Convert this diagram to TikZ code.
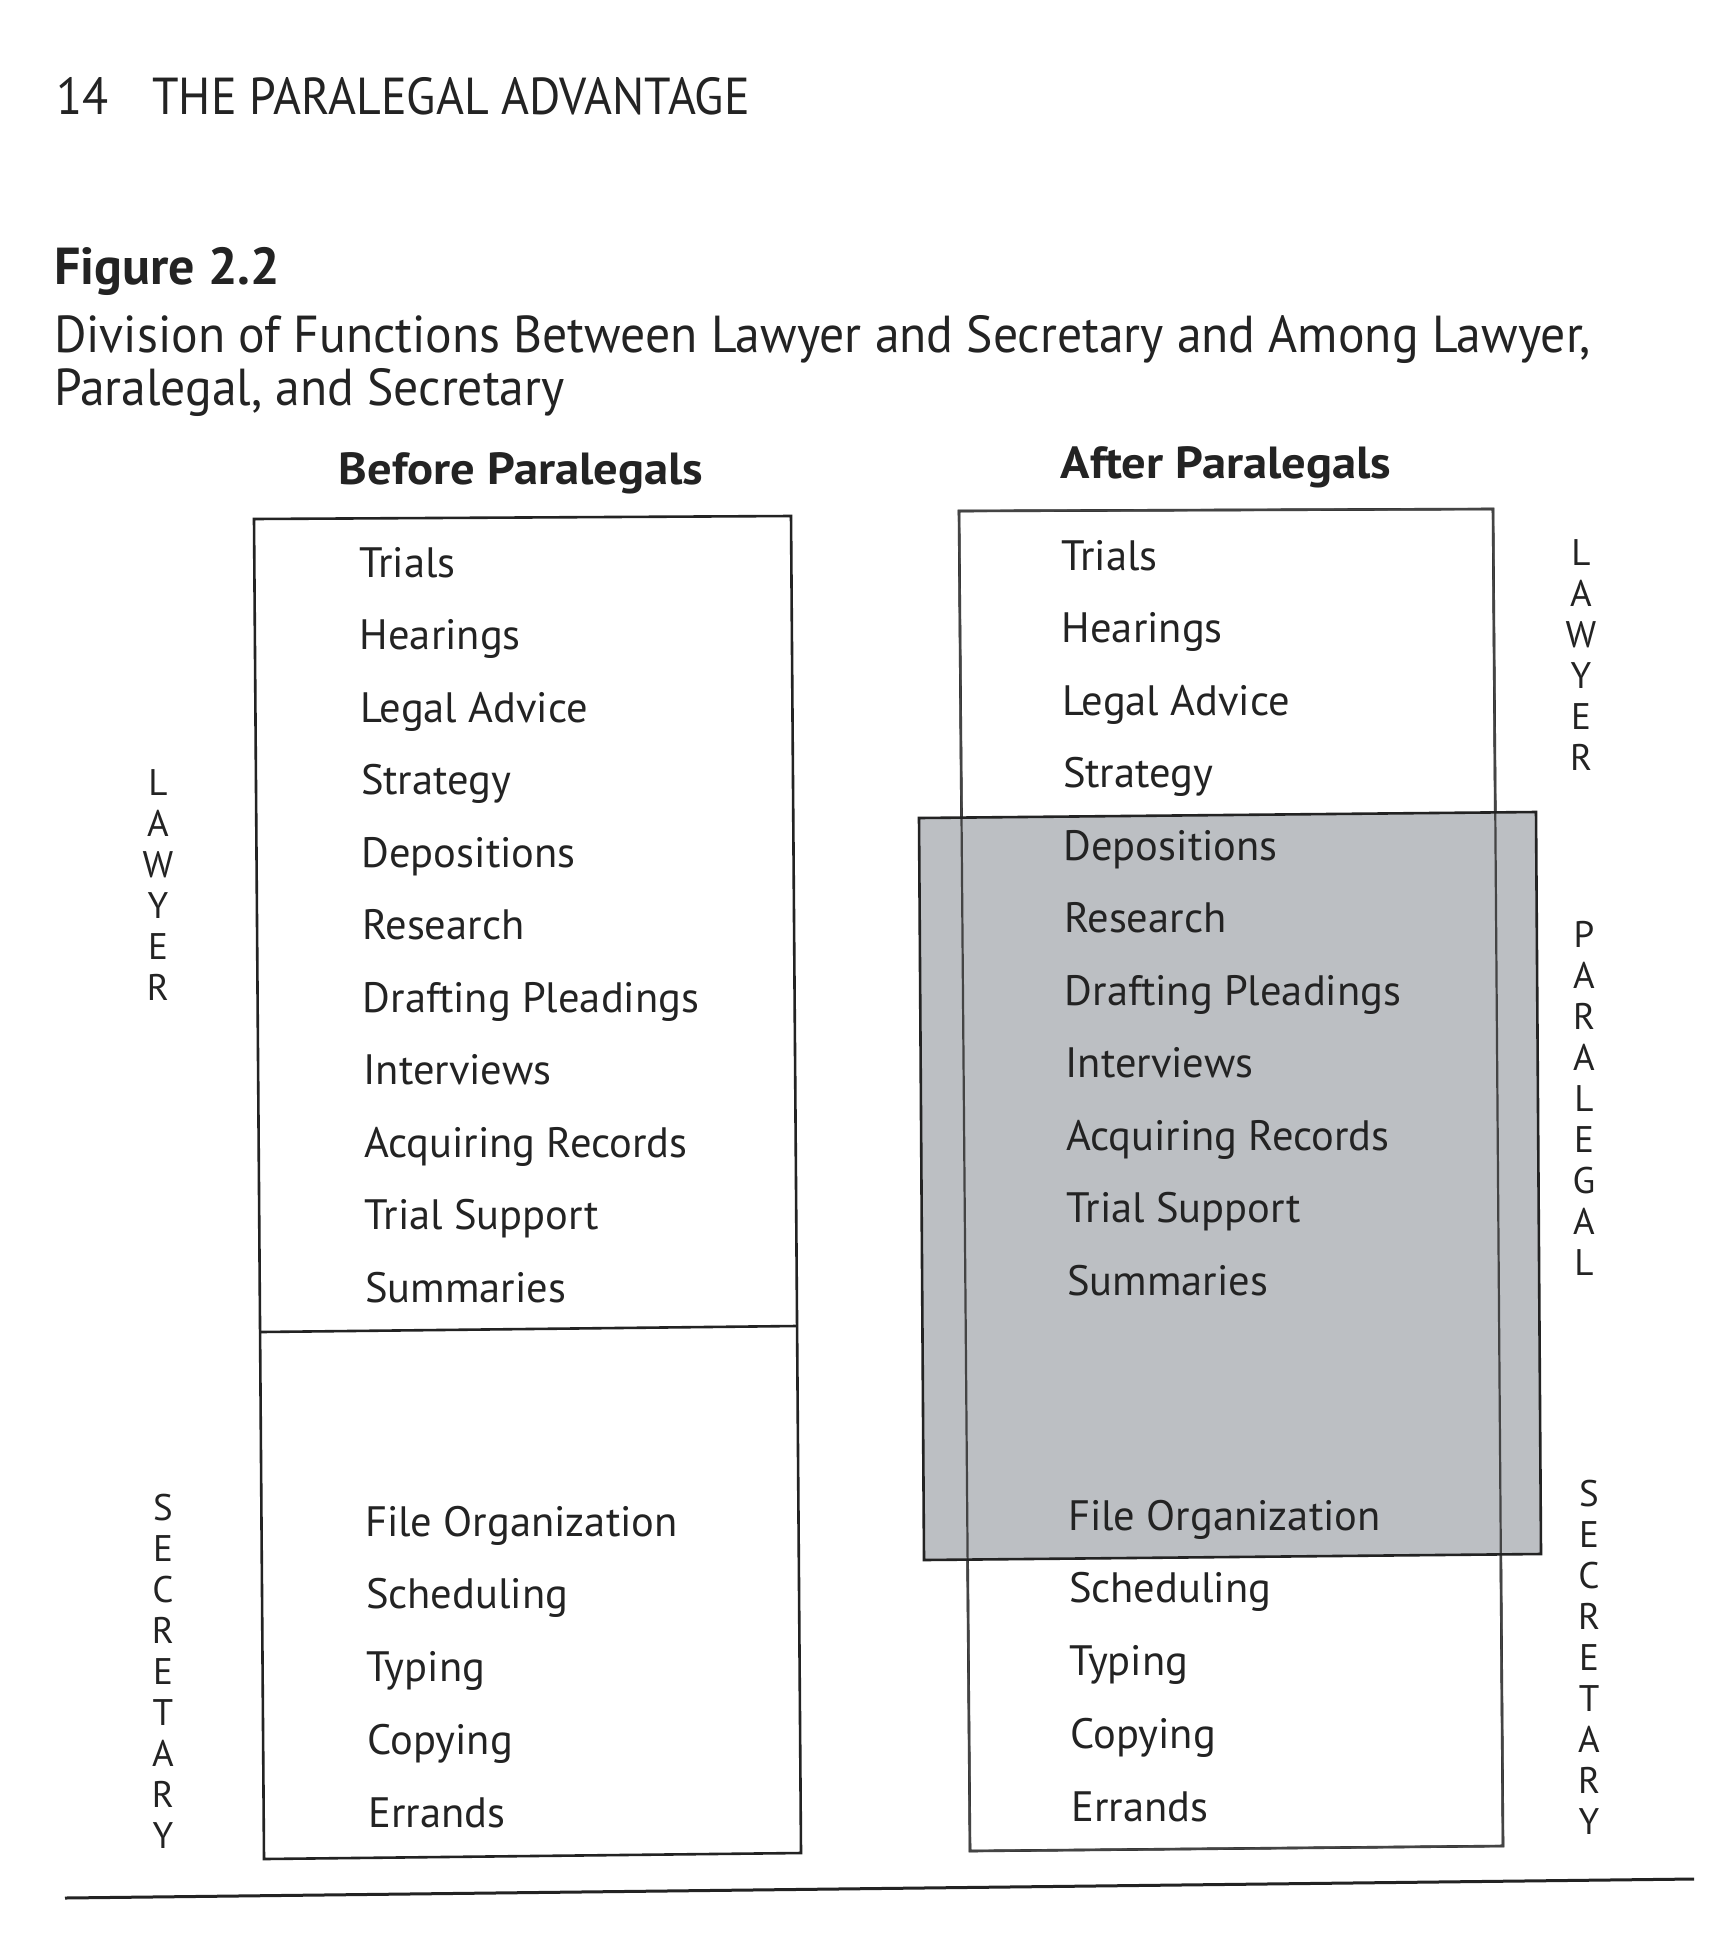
\documentclass[tikz,border=0pt]{standalone}
\usepackage{fontspec}
\setmainfont{PT Sans}
\newfontfamily\headfont[FakeStretch=0.92]{PT Sans}
\newfontfamily\capfont[FakeStretch=0.955]{PT Sans}
\newfontfamily\colfont[FakeStretch=1.08]{PT Sans}
\definecolor{paragray}{RGB}{188,191,195}
\definecolor{ink}{RGB}{35,35,35}
\tikzset{
  item/.style={anchor=base west, inner sep=0pt, text=ink, font=\fontsize{42.5}{43}\selectfont},
  vlab/.style={align=center, inner sep=0pt, text=ink, font=\fontsize{37}{41}\selectfont},
  boxline/.style={draw=ink, line width=2.6pt, line join=miter},
  head/.style={anchor=base west, inner sep=0pt, text=ink, font=\fontsize{52}{58}\capfont},
  colhead/.style={anchor=base, inner sep=0pt, text=ink, font=\fontsize{45}{45}\colfont\bfseries}
}
\begin{document}
\begin{tikzpicture}[x=1pt,y=-1pt]
\useasboundingbox[fill=white] (0,0) rectangle (1726,1956);

% page header and caption
\node[head, font=\fontsize{52}{58}\headfont] (pagehead) at (56,115) {14\hspace{44pt}THE PARALEGAL ADVANTAGE};
\node[head, font=\fontsize{52}{58}\selectfont\bfseries] (fig) at (54,284) {Figure 2.2};
\node[head] (cap1) at (54,352) {Division of Functions Between Lawyer and Secretary and Among Lawyer,};
\node[head] (cap2) at (54,405) {Paralegal, and Secretary};

% column heads
\node[colhead] (before) at (521,484) {Before Paralegals};
\node[colhead] (after) at (1226,478) {After Paralegals};

% left box
\draw[boxline] (254,519) -- (791,516) -- (801,1853) -- (264,1859) -- cycle;
\draw[boxline] (261,1332) -- (796,1326);

% right box, shaded paralegal box
\draw[boxline] (959,511) -- (1493,509) -- (1503,1846) -- (970,1851) -- cycle;
\fill[paragray] (919,818) -- (1536,812) -- (1541,1554) -- (924,1560) -- cycle;
\draw[boxline, line width=2.2pt, draw=ink!85] (959,511) -- (1493,509) -- (1503,1846) -- (970,1851) -- cycle;
\draw[boxline] (919,818) -- (1536,812) -- (1541,1554) -- (924,1560) -- cycle;

% left items
\foreach \t [count=\i from 0] in {Trials,Hearings,Legal Advice,Strategy,Depositions,Research,Drafting Pleadings,Interviews,Acquiring Records,Trial Support,Summaries}
  \node[item] (L\i) at ({359+0.6*\i},{577+72.5*\i}) {\t};
\foreach \t [count=\i from 0] in {File Organization,Scheduling,Typing,Copying,Errands}
  \node[item] (LS\i) at ({365+0.8*\i},{1536+72.75*\i}) {\t};

% right items
\foreach \t [count=\i from 0] in {Trials,Hearings,Legal Advice,Strategy,Depositions,Research,Drafting Pleadings,Interviews,Acquiring Records,Trial Support,Summaries}
  \node[item] (R\i) at ({1061+0.6*\i},{570+72.5*\i}) {\t};
\foreach \t [count=\i from 0] in {File Organization,Scheduling,Typing,Copying,Errands}
  \node[item] (RS\i) at ({1068+0.8*\i},{1530+72.75*\i}) {\t};

% vertical labels
\node[vlab] (lawL) at (158,885) {L\\A\\W\\Y\\E\\R};
\node[vlab] (secL) at (163,1671) {S\\E\\C\\R\\E\\T\\A\\R\\Y};
\node[vlab] (lawR) at (1581,655) {L\\A\\W\\Y\\E\\R};
\node[vlab] (parR) at (1584,1098) {P\\A\\R\\A\\L\\E\\G\\A\\L};
\node[vlab] (secR) at (1589,1657) {S\\E\\C\\R\\E\\T\\A\\R\\Y};

% bottom rule
\coordinate (ruleA) at (65,1898);
\coordinate (ruleB) at (1694,1879);
\draw[draw=ink, line width=3pt] (ruleA) -- (ruleB);
\end{tikzpicture}
\end{document}
